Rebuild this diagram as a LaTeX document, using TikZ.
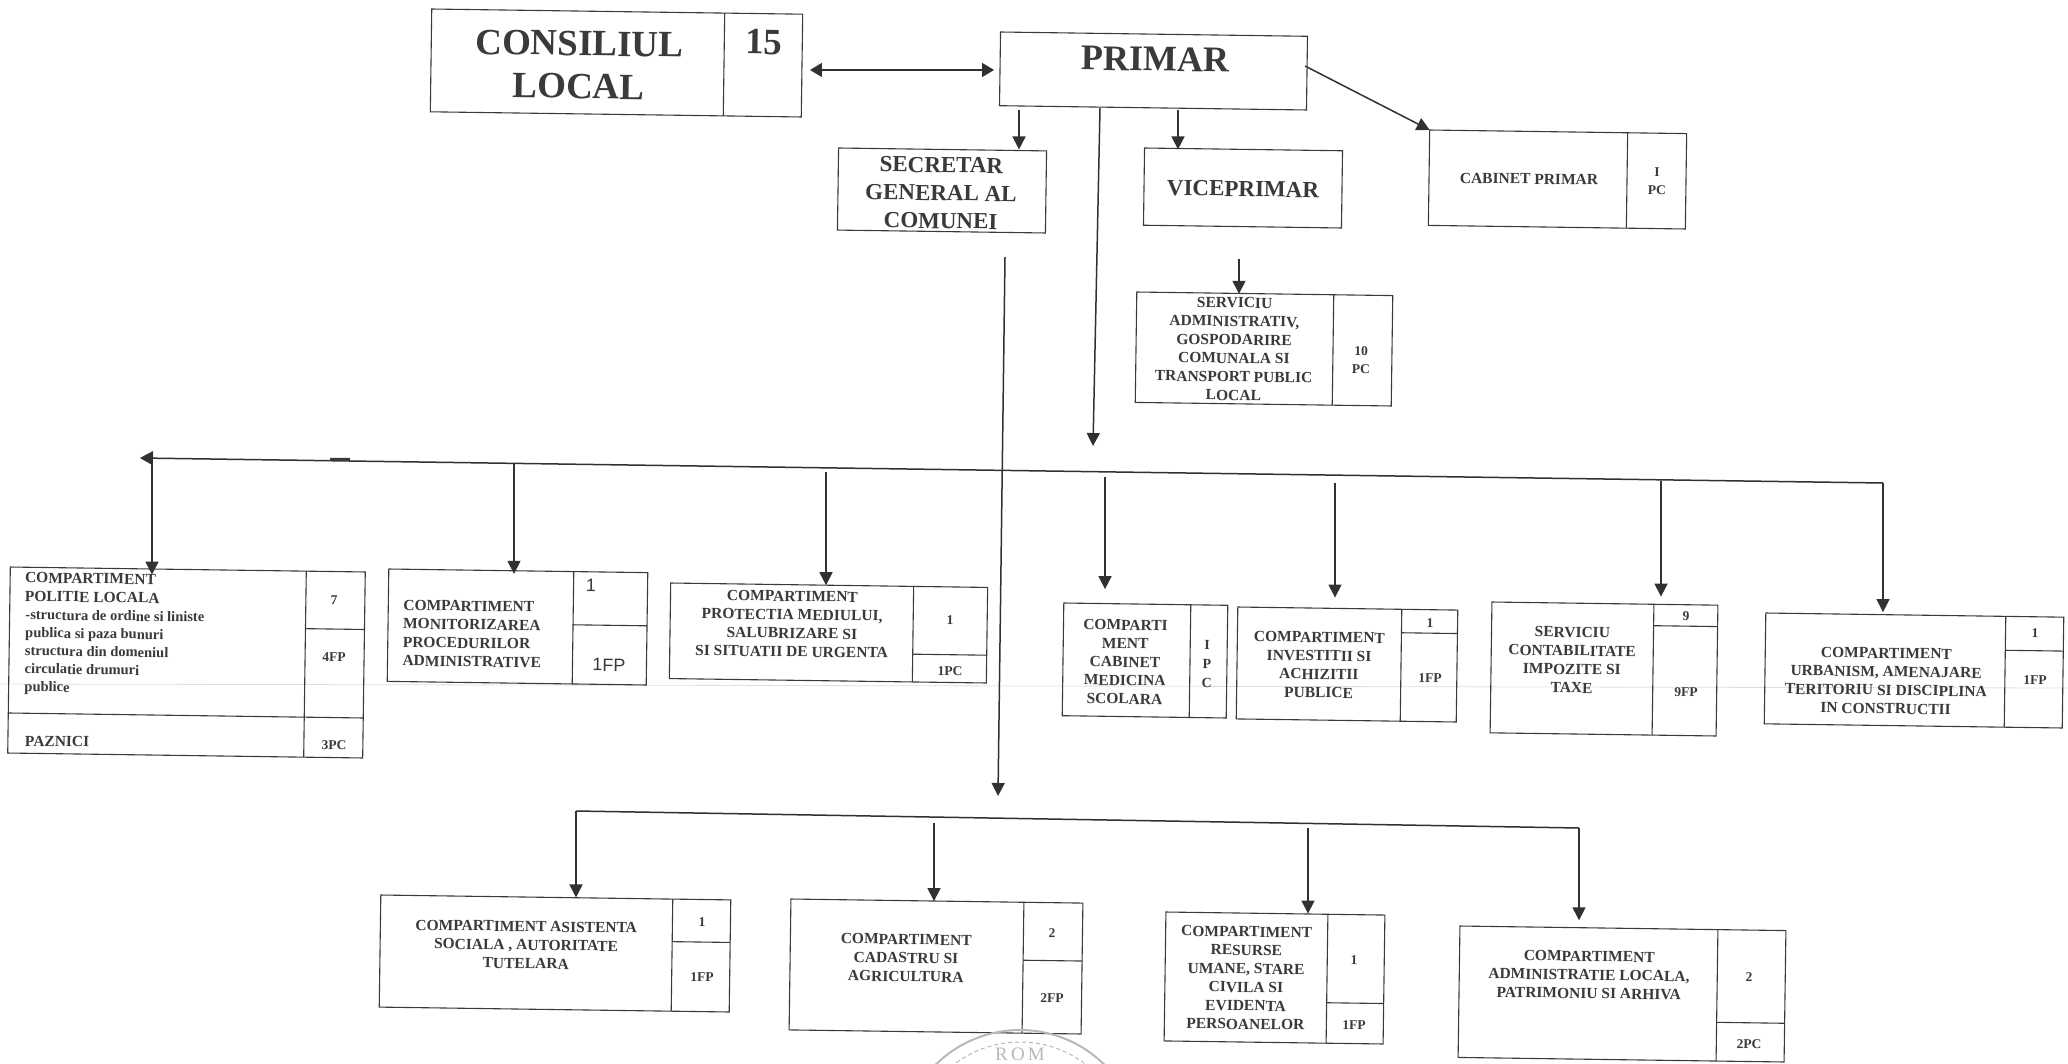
\documentclass[tikz,border=0pt]{standalone}
\usepackage{fontspec}
\setmainfont{Liberation Serif}
\newfontfamily\plainsans{Liberation Sans}
\usetikzlibrary{arrows.meta}
\definecolor{ink}{HTML}{3A3A3A}
\definecolor{stampc}{HTML}{B8B8B8}
\tikzset{
  framebox/.style={draw=ink,line width=1.1pt,inner sep=0pt,outer sep=0pt,transform shape},
  rule/.style={draw=ink,line width=1.1pt},
  conn/.style={draw=ink!85!black,line width=1.5pt},
  arr/.style={conn,-{Triangle[length=13pt,width=13pt]}},
  lab/.style={inner sep=0pt,outer sep=0pt,text=ink,align=center,rotate=-0.8,font=\fontsize{15.5}{18.5}\selectfont\bfseries},
  labl/.style={lab,align=left,anchor=west},
  cell/.style={lab,font=\fontsize{13.5}{18}\selectfont\bfseries},
  mid/.style={lab,font=\fontsize{23}{28}\selectfont\bfseries},
  big/.style={lab,font=\fontsize{37}{43}\selectfont\bfseries},
  sanscell/.style={lab,font=\fontsize{18}{20}\selectfont\plainsans},
}
\newcommand{\orgbox}[7]{%
  \pgfmathsetmacro\bcx{(#2+#4)/2}%
  \pgfmathsetmacro\bcy{(#3+#5)/2}%
  \pgfmathsetmacro\bw{#4-#2}%
  \pgfmathsetmacro\bh{#5-#3-0.014*(#4-#2)}%
  \pgfmathsetmacro\bt{\bcy-\bh/2}%
  \pgfmathsetmacro\bb{\bcy+\bh/2}%
  \begin{scope}[rotate around={-0.8:(\bcx,\bcy)}]
    \node[framebox,minimum width=\bw pt,minimum height=\bh pt] (#1) at (\bcx,\bcy) {};
    \def\tmpd{#6}\def\tmpe{}%
    \ifx\tmpd\tmpe\else\draw[rule] (#6,\bt) -- (#6,\bb);\fi
    \def\tmps{#7}%
    \ifx\tmps\tmpe\else\draw[rule] (#6,#7) -- (#4,#7);\fi
  \end{scope}}
\begin{document}
\begin{tikzpicture}[x=1pt,y=-1pt]
\useasboundingbox (0,0) rectangle (2068,1064);
\fill[white] (0,0) rectangle (2068,1064);
% faint scan line
\draw[black!12,line width=0.8pt] (0,684) -- (2068,688);
% top row
\orgbox{consiliu}{431}{9}{802}{117}{724}{}
\orgbox{primar}{1000}{32}{1307}{110}{}{}
\orgbox{secretar}{838}{148}{1046}{233}{}{}
\orgbox{vice}{1144}{148}{1342}{228}{}{}
\orgbox{cabinet}{1429}{130}{1686}{229}{1627}{}
\orgbox{servadm}{1136}{292}{1392}{406}{1333}{}
\node[big] (tconsiliu) at (579,65) {CONSILIUL\\[0pt]LOCAL};
\node[big] (t15) at (764,42) {15};
\node[lab,font=\fontsize{36}{40}\selectfont\bfseries] (tprimar) at (1155,59) {PRIMAR};
\node[mid] (tsecretar) at (941,193) {SECRETAR\\GENERAL AL\\COMUNEI};
\node[mid] (tvice) at (1243,189) {VICEPRIMAR};
\node[lab] (tcab) at (1529,179) {CABINET PRIMAR};
\node[cell] (ccab) at (1657,181) {I\\PC};
\node[lab] (tserv) at (1234,349) {SERVICIU\\ADMINISTRATIV,\\GOSPODARIRE\\COMUNALA SI\\TRANSPORT PUBLIC\\LOCAL};
\node[cell] (cserv) at (1361,360) {10\\PC};
% middle row
\orgbox{pol}{9}{567}{364}{758}{305}{627}
\draw[rule] (9,713) -- (364,718);
\node[labl] (tpol1) at (25,587) {COMPARTIMENT\\POLITIE LOCALA};
\node[labl,font=\fontsize{14.5}{18}\selectfont\bfseries] (tpol2) at (25,652) {-structura de ordine si liniste\\publica si paza bunuri\\structura din domeniul\\circulatie drumuri\\publice};
\node[labl] (tpaz) at (25,741) {PAZNICI};
\node[cell] (cpol1) at (334,600) {7};
\node[cell] (cpol2) at (334,657) {4FP};
\node[cell] (cpol3) at (334,745) {3PC};
\orgbox{mon}{388}{569}{647}{685}{573}{624}
\node[labl] (tmon) at (403,633) {COMPARTIMENT\\MONITORIZAREA\\PROCEDURILOR\\ADMINISTRATIVE};
\node[sanscell] (cmon1) at (591,585) {1};
\node[sanscell] (cmon2) at (609,665) {1FP};
\orgbox{prot}{670}{583}{987}{683}{913}{653}
\node[lab] (tprot) at (792,624) {COMPARTIMENT\\PROTECTIA MEDIULUI,\\SALUBRIZARE SI\\SI SITUATII DE URGENTA};
\node[cell] (cprot1) at (950,620) {1};
\node[cell] (cprot2) at (950,671) {1PC};
\orgbox{med}{1063}{603}{1227}{718}{1190}{}
\node[lab] (tmed) at (1125,662) {COMPARTI\\MENT\\CABINET\\MEDICINA\\SCOLARA};
\node[lab,font=\fontsize{14}{19}\selectfont\bfseries] (cmed) at (1207,664) {I\\P\\C};
\orgbox{inv}{1237}{607}{1457}{722}{1401}{632}
\node[lab] (tinv) at (1319,665) {COMPARTIMENT\\INVESTITII SI\\ACHIZITII\\PUBLICE};
\node[cell] (cinv1) at (1430,623) {1};
\node[cell] (cinv2) at (1430,678) {1FP};
\orgbox{cont}{1491}{602}{1717}{736}{1653}{625}
\node[lab] (tcont) at (1572,660) {SERVICIU\\CONTABILITATE\\IMPOZITE SI\\TAXE};
\node[cell] (ccont1) at (1686,616) {9};
\node[cell] (ccont2) at (1686,692) {9FP};
\orgbox{urb}{1765}{613}{2063}{728}{2005}{649}
\node[lab] (turb) at (1886,681) {COMPARTIMENT\\URBANISM, AMENAJARE\\TERITORIU SI  DISCIPLINA\\IN CONSTRUCTII};
\node[cell] (curb1) at (2035,633) {1};
\node[cell] (curb2) at (2035,680) {1FP};
% bottom row
\orgbox{asis}{380}{895}{730}{1012}{672}{940}
\node[lab] (tasis) at (526,945) {COMPARTIMENT ASISTENTA\\SOCIALA , AUTORITATE\\TUTELARA};
\node[cell] (casis1) at (702,922) {1};
\node[cell] (casis2) at (702,977) {1FP};
\orgbox{cad}{790}{899}{1082}{1034}{1023}{959}
\node[lab] (tcad) at (906,958) {COMPARTIMENT\\CADASTRU SI\\AGRICULTURA};
\node[cell] (ccad1) at (1052,933) {2};
\node[cell] (ccad2) at (1052,998) {2FP};
\orgbox{res}{1165}{912}{1384}{1044}{1327}{1002}
\node[lab] (tres) at (1246,978) {COMPARTIMENT\\RESURSE\\UMANE, STARE\\CIVILA  SI\\EVIDENTA\\PERSOANELOR};
\node[cell] (cres1) at (1354,960) {1};
\node[cell] (cres2) at (1354,1025) {1FP};
\orgbox{adm}{1459}{926}{1785}{1062}{1717}{1021}
\node[lab] (tadm) at (1589,975) {COMPARTIMENT\\ADMINISTRATIE LOCALA,\\PATRIMONIU SI ARHIVA};
\node[cell] (cadm1) at (1749,977) {2};
\node[cell] (cadm2) at (1749,1044) {2PC};
% free ends of the connectors
\coordinate (busL) at (140,458);
\coordinate (busR) at (1883,483);
\coordinate (s1) at (152,458);
\coordinate (s2) at (514,463);
\coordinate (s3) at (826,472);
\coordinate (s4) at (1105,477);
\coordinate (s5) at (1335,483);
\coordinate (s6) at (1661,481);
\coordinate (pm) at (1100,108);
\coordinate (pmend) at (1093,446);
\coordinate (secS) at (1005,257);
\coordinate (secE) at (998,796);
\coordinate (lowL) at (576,811);
\coordinate (lowR) at (1579,828);
\coordinate (l2) at (934,823);
\coordinate (l3) at (1308,828);
\coordinate (pS) at (1019,110);
\coordinate (vS) at (1178,110);
\coordinate (sS) at (1239,259);
\coordinate (cS) at (1305,66);
\coordinate (hy) at (0,70);
% top connectors
\draw[conn,{Triangle[length=12pt,width=14pt]}-{Triangle[length=12pt,width=14pt]},shorten <=8pt,shorten >=6pt] (consiliu.east |- hy) -- (primar.west |- hy);
\draw[arr] (pS) -- (pS |- secretar.north);
\draw[arr] (vS) -- (vS |- vice.north);
\draw[arr] (sS) -- (sS |- servadm.north);
\draw[arr] (cS) -- (cabinet.north west);
\draw[arr] (pm) -- (pmend);
\draw[arr] (secS) -- (secE);
% upper bus
\draw[conn,-{Triangle[length=13pt,width=14pt]}] (busR) -- (busL);
\draw[ink,line width=3pt] (330,459.3) -- (350,459.5);
\draw[arr,shorten >=-5pt] (s1) -- (s1 |- pol.north);
\draw[arr,shorten >=-3pt] (s2) -- (s2 |- mon.north);
\draw[arr] (s3) -- (s3 |- prot.north);
\draw[arr,shorten >=15pt] (s4) -- (s4 |- med.north);
\draw[arr,shorten >=11pt] (s5) -- (s5 |- inv.north);
\draw[arr,shorten >=7pt] (s6) -- (s6 |- cont.north);
\draw[arr,shorten >=3pt] (busR) -- (busR |- urb.north);
% lower bus
\draw[conn] (lowL) -- (lowR);
\draw[arr] (lowL) -- (lowL |- asis.north);
\draw[arr] (l2) -- (l2 |- cad.north);
\draw[arr] (l3) -- (l3 |- res.north);
\draw[arr,shorten >=8pt] (lowR) -- (lowR |- adm.north);
% stamp
\begin{scope}
\clip (900,1020) rectangle (1200,1064);
\draw[stampc,line width=2pt] (1020,1150) circle (120);
\draw[stampc,line width=1pt,dash pattern=on 4pt off 3pt] (1020,1150) circle (108);
\node[font=\fontsize{19}{19}\selectfont,text=stampc,inner sep=0pt] (stamp) at (1020,1054) {R\,O\,M};
\end{scope}
\end{tikzpicture}
\end{document}
